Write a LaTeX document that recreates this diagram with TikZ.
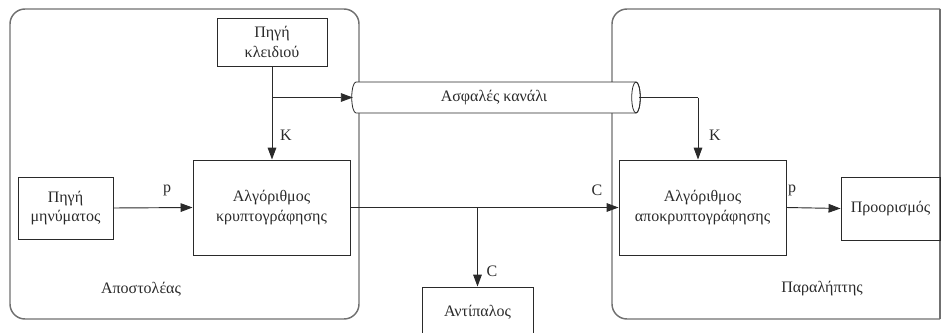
\documentclass[tikz,border=0pt]{standalone}
\usepackage{fontspec}
\setmainfont{Liberation Serif}
\usetikzlibrary{arrows.meta}
\definecolor{inkline}{HTML}{2A2A2A}
\definecolor{frameline}{HTML}{707070}
\begin{document}
\begin{tikzpicture}[x=0.75pt,y=-0.75pt,
  every node/.style={font=\fontsize{12}{14.8}\selectfont, text=inkline},
  block/.style={draw=inkline, line width=0.7pt, align=center, inner sep=0pt},
  container/.style={draw=frameline, line width=1.1pt},
  conn/.style={draw=inkline, line width=0.7pt},
  arr/.style={conn, -{Triangle[length=9pt,width=6.5pt]}},
  pipe/.style={draw=inkline, line width=0.6pt},
  tag/.style={inner sep=0pt}]
\useasboundingbox (0,0) rectangle (941,332);
\clip (0,0) rectangle (941,332);

% sender and receiver frames
\draw[container, rounded corners=15*0.75pt] (10,9) rectangle (359,319);
\draw[container, rounded corners=15*0.75pt] (940,9) -- (612,9) -- (612,319) -- (940,319);
\draw[container] (940,9) -- (940,319);

% blocks
\node[block, minimum width=110*0.75pt, minimum height=48*0.75pt] (keysrc) at (272,42) {Πηγή\\κλειδιού};
\node[block, minimum width=95*0.75pt, minimum height=62*0.75pt] (msgsrc) at (65.5,208) {Πηγή\\μηνύματος};
\node[block, minimum width=157*0.75pt, minimum height=95*0.75pt] (enc) at (271.5,207.5) {Αλγόριθμος\\κρυπτογράφησης};
\node[block, minimum width=167*0.75pt, minimum height=95*0.75pt] (dec) at (702.5,207.5) {Αλγόριθμος\\αποκρυπτογράφησης};
\node[block, minimum width=99*0.75pt, minimum height=63*0.75pt] (dest) at (890.5,208.5) {Προορισμός};
\node[block, minimum width=111*0.75pt, minimum height=50*0.75pt] (adv) at (477.5,312) {Αντίπαλος};

% secure channel drawn as a horizontal pipe
\path[pipe, fill=white] (356,82) -- (636,82)
  arc[start angle=90, end angle=-90, x radius=3.2pt, y radius=11.625pt]
  -- (356,113)
  arc[start angle=270, end angle=90, x radius=3.2pt, y radius=11.625pt] -- cycle;
\draw[pipe] (636,97.5) ellipse[x radius=3.2pt, y radius=11.625pt];
\node[tag] (chan) at (494,97.5) {Ασφαλές κανάλι};
\coordinate (chanin) at (352.8,97.5);
\coordinate (chanout) at (639.2,97.5);

% frame captions
\node[tag] (sender) at (141,289) {Αποστολέας};
\node[tag] (receiver) at (822,289) {Παραλήπτης};

% connectors
\coordinate (kbranch) at (keysrc.south |- chanin);
\coordinate (cbranch) at (477.5,207.5);
\coordinate (kdown) at (698,97.5);
\draw[arr] (keysrc.south) -- (keysrc.south |- enc.north);
\draw[arr] (kbranch) -- (chanin);
\draw[arr] (msgsrc.east) -- (enc.west);
\draw[arr] (enc.east) -- (dec.west);
\draw[arr] (cbranch) -- (adv.north);
\draw[conn] (chanout) -- (kdown);
\draw[arr] (kdown) -- (kdown |- dec.north);
\draw[arr] (dec.east) -- (dest.west);

% connector labels
\node[tag] (lk1) at (286,135) {K};
\node[tag] (lk2) at (715,135) {K};
\node[tag] (lp1) at (167,190) {p};
\node[tag] (lp2) at (792,190) {p};
\node[tag] (lc1) at (597,190) {C};
\node[tag] (lc2) at (492,271) {C};
\end{tikzpicture}
\end{document}
